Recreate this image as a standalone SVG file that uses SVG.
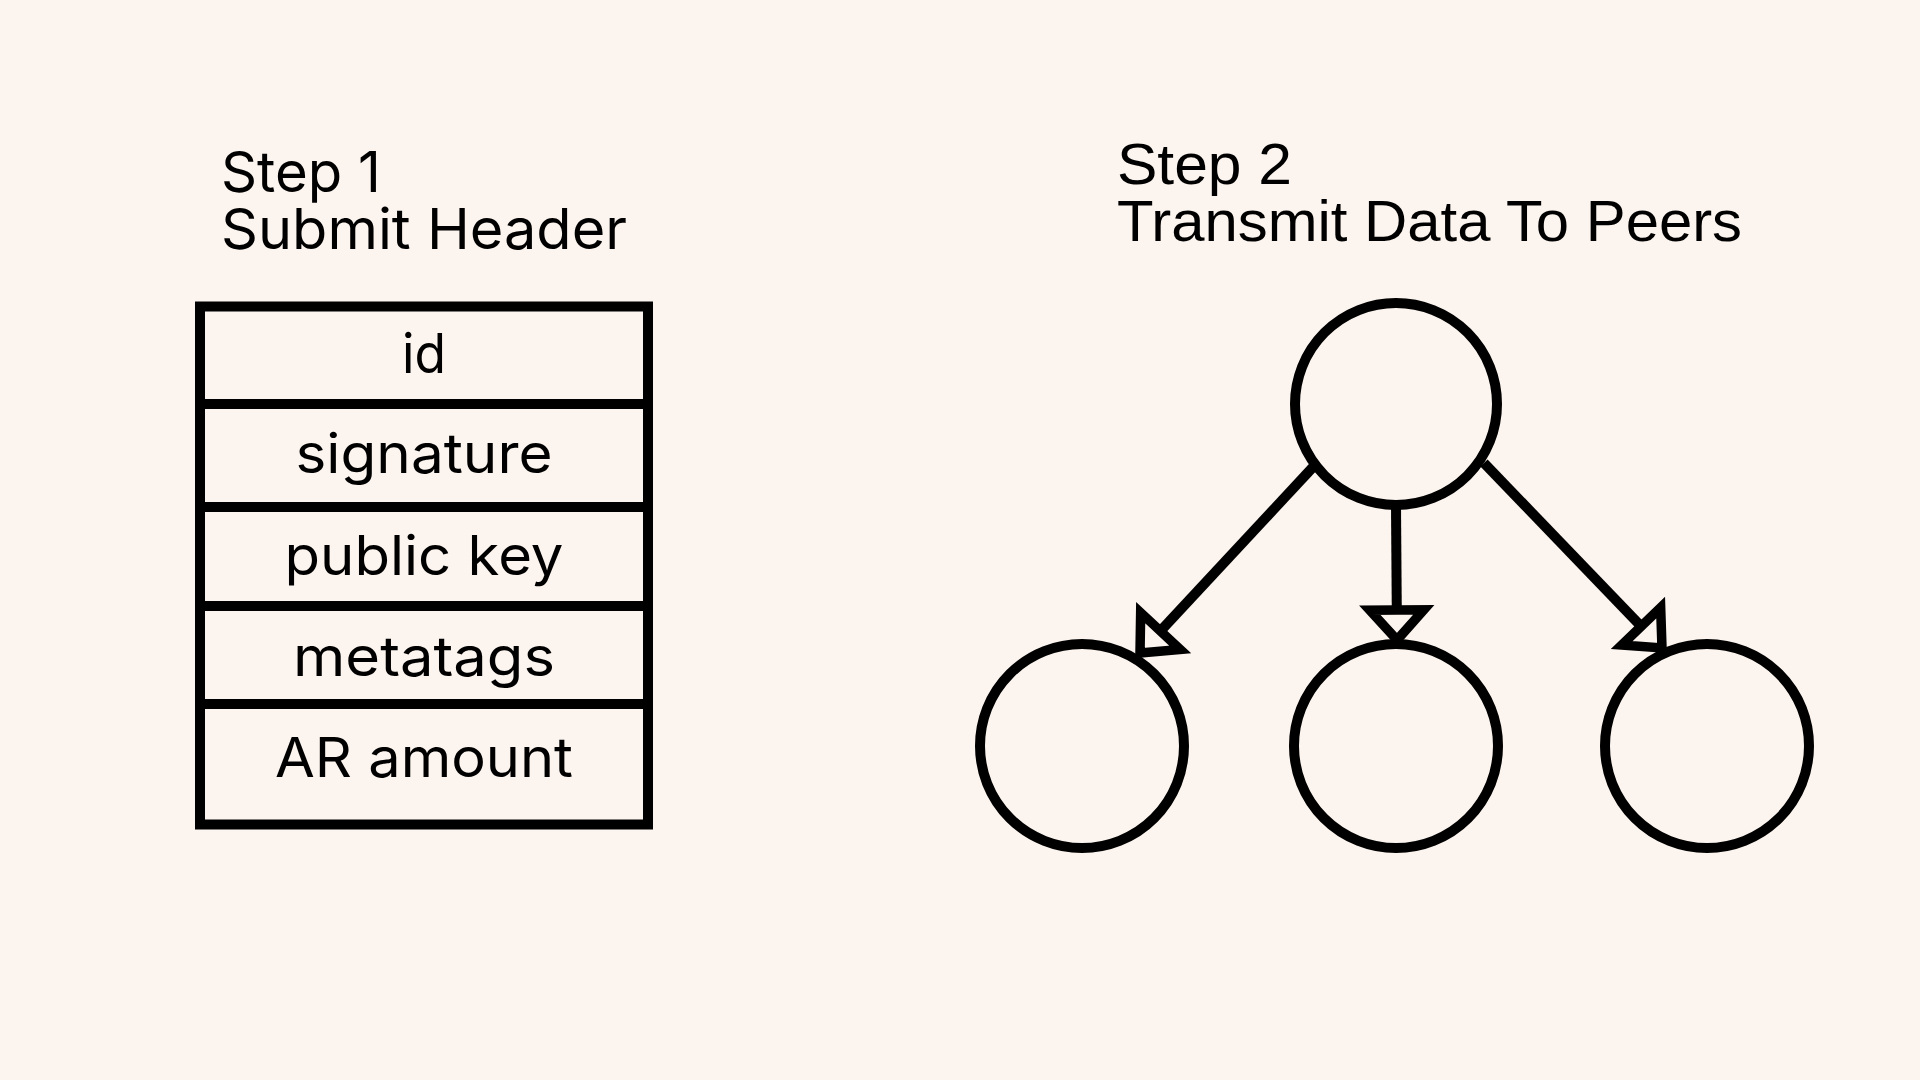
<svg xmlns="http://www.w3.org/2000/svg" width="1920" height="1080" viewBox="0 0 1920 1080">
  <defs>
    <style>
      .bg { fill: #FCF4EE; }
      .title1 { font-family: Inter, "Liberation Sans", sans-serif; font-size: 56px; fill: #000; }
      .title2 { font-family: "Liberation Sans", Arial, sans-serif; font-size: 58px; fill: #000; }
      .cell { fill: none; stroke: #000; stroke-width: 10; }
      .label { font-family: Inter, "Liberation Sans", sans-serif; font-size: 55px; fill: #000; text-anchor: middle; }
      .node { fill: none; stroke: #000; stroke-width: 10; }
      .edge { fill: none; stroke: #000; stroke-width: 10; marker-end: url(#arrow); }
    </style>
    <marker id="arrow" markerUnits="userSpaceOnUse" orient="auto" refX="0" refY="0" markerWidth="80" markerHeight="80" viewBox="-50 -40 80 80" overflow="visible">
      <path d="M0,0 L-30,-27 L-30,27 Z" fill="#FCF4EE" stroke="#000" stroke-width="9.5" stroke-linejoin="miter"/>
    </marker>
  </defs>

  <rect class="bg" x="0" y="0" width="1920" height="1080"/>

  <g id="title-step1">
    <text class="title1" x="221" y="192" textLength="160" lengthAdjust="spacingAndGlyphs">Step 1</text>
    <text class="title1" x="221" y="249" textLength="406" lengthAdjust="spacingAndGlyphs">Submit Header</text>
  </g>

  <g id="title-step2">
    <text class="title2" x="1117" y="184" textLength="175" lengthAdjust="spacingAndGlyphs">Step 2</text>
    <text class="title2" x="1117" y="241" textLength="625" lengthAdjust="spacingAndGlyphs">Transmit Data To Peers</text>
  </g>

  <g id="header-table">
    <g id="row-id">
      <rect class="cell" x="200" y="306.5" width="448" height="97.5"/>
      <text class="label" x="424" y="373" textLength="44" lengthAdjust="spacingAndGlyphs">id</text>
    </g>
    <g id="row-signature">
      <rect class="cell" x="200" y="404" width="448" height="103"/>
      <text class="label" x="424" y="473" textLength="257" lengthAdjust="spacingAndGlyphs">signature</text>
    </g>
    <g id="row-public-key">
      <rect class="cell" x="200" y="507" width="448" height="99"/>
      <text class="label" x="424" y="575" textLength="279" lengthAdjust="spacingAndGlyphs">public key</text>
    </g>
    <g id="row-metatags">
      <rect class="cell" x="200" y="606" width="448" height="98"/>
      <text class="label" x="424" y="676" textLength="262" lengthAdjust="spacingAndGlyphs">metatags</text>
    </g>
    <g id="row-ar-amount">
      <rect class="cell" x="200" y="704" width="448" height="120.5"/>
      <text class="label" x="424" y="777" textLength="298" lengthAdjust="spacingAndGlyphs">AR amount</text>
    </g>
  </g>

  <g id="node-source">
    <circle class="node" cx="1396" cy="404" r="101"/>
  </g>
  <g id="node-peer-1">
    <circle class="node" cx="1082" cy="746" r="102"/>
  </g>
  <g id="node-peer-2">
    <circle class="node" cx="1396" cy="746" r="102"/>
  </g>
  <g id="node-peer-3">
    <circle class="node" cx="1707" cy="746" r="102"/>
  </g>

  <g id="connectors">
    <line class="edge" x1="1314" y1="466" x2="1140" y2="653"/>
    <line class="edge" x1="1396" y1="506" x2="1397" y2="640"/>
    <line class="edge" x1="1484" y1="463" x2="1662" y2="648"/>
  </g>
</svg>
